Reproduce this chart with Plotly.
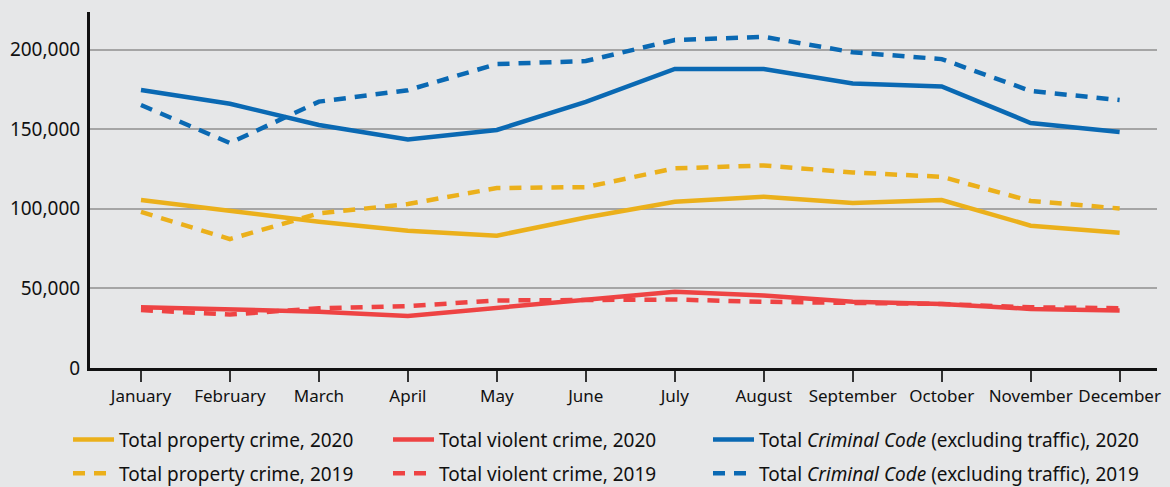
import plotly.graph_objects as go

months = ["January", "February", "March", "April", "May", "June", "July",
          "August", "September", "October", "November", "December"]

property_2020 = [105500, 98600, 91900, 86200, 83100, 94500, 104400, 107600, 103600, 105500, 89400, 85000]
property_2019 = [98000, 81000, 97100, 103000, 113000, 113600, 125400, 127200, 122800, 120100, 104900, 100200]
violent_2020 = [38100, 37100, 35400, 32700, 37700, 42700, 47900, 45500, 41600, 40200, 37100, 36100]
violent_2019 = [36400, 33600, 37500, 38900, 42400, 43000, 43000, 41600, 41200, 40200, 38100, 37600]
criminal_2020 = [174600, 166000, 152600, 143600, 149500, 167200, 187800, 187800, 178700, 176800, 153900, 148200]
criminal_2019 = [165200, 141300, 167300, 174500, 190900, 192800, 206000, 208000, 198300, 194000, 174000, 168300]

y_ticks = [0, 50000, 100000, 150000, 200000]
y_tick_labels = ["0", "50,000", "100,000", "150,000", "200,000"]

YELLOW = "#ebb01b"
RED = "#ee4343"
BLUE = "#0a69b3"
BG = "#e6e7e8"
FONT = "Noto Sans, Open Sans, sans-serif"

fig = go.Figure()

def add(name, vals, color, dashed, legend, group):
    fig.add_trace(go.Scatter(
        x=months, y=vals, name=name, mode="lines",
        line=dict(color=color, width=4.5, dash="12px,9px" if dashed else "solid"),
        legend=legend, legendgroup=group,
    ))

add("Total property crime, 2020", property_2020, YELLOW, False, "legend", "p20")
add("Total property crime, 2019", property_2019, YELLOW, True, "legend", "p19")
add("Total violent crime, 2020", violent_2020, RED, False, "legend2", "v20")
add("Total violent crime, 2019", violent_2019, RED, True, "legend2", "v19")
add("Total <i>Criminal Code</i> (excluding traffic), 2020", criminal_2020, BLUE, False, "legend3", "c20")
add("Total <i>Criminal Code</i> (excluding traffic), 2019", criminal_2019, BLUE, True, "legend3", "c19")

legend_common = dict(
    orientation="v", xanchor="left", yanchor="top", y=-0.148,
    font=dict(family=FONT, size=19, color="#111111"),
    bgcolor="rgba(0,0,0,0)", itemwidth=41, tracegroupgap=6,
)

fig.update_layout(
    width=1170, height=487,
    paper_bgcolor=BG, plot_bgcolor=BG,
    margin=dict(l=90, r=13, t=12, b=119, autoexpand=False),
    font=dict(family=FONT, color="#111111"),
    showlegend=True,
    legend=dict(x=-0.0206, **legend_common),
    legend2=dict(x=0.2793, **legend_common),
    legend3=dict(x=0.5792, **legend_common),
    xaxis=dict(
        type="category", range=[-0.573, 11.42],
        showline=True, linecolor="#111111", linewidth=3,
        ticks="outside", ticklen=11, tickwidth=2, tickcolor="#333333",
        showgrid=False, zeroline=False,
        tickfont=dict(family=FONT, size=17, color="#111111"),
    ),
    yaxis=dict(
        range=[0, 223600],
        tickvals=y_ticks, ticktext=y_tick_labels,
        showline=True, linecolor="#111111", linewidth=3,
        showgrid=True, gridcolor="#a5a5a5", gridwidth=1.5,
        zeroline=False, ticks="", ticklabelstandoff=3,
        tickfont=dict(family=FONT, size=19, color="#111111"),
    ),
)

fig.write_html(
    "out.html",
    config={"displayModeBar": False},
    post_script="document.body.style.margin='0';document.body.style.background='#e6e7e8';document.body.style.overflow='hidden';",
)
